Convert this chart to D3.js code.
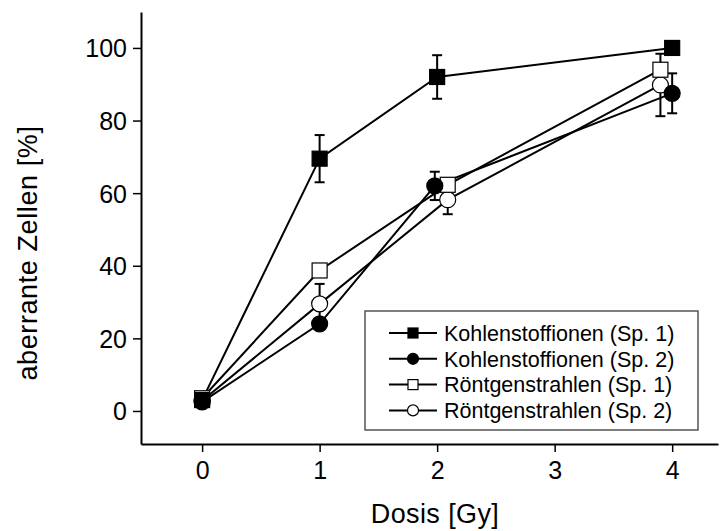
<!DOCTYPE html>
<html>
<head>
<meta charset="utf-8">
<script src="https://cdn.jsdelivr.net/npm/d3@7"></script>
<style>
  html, body { margin: 0; padding: 0; background: #fff; }
  svg { display: block; font-family: "Liberation Sans", Arial, sans-serif; }
</style>
</head>
<body>
<svg id="chart" width="720" height="531"></svg>
<script>
// Dose (Gy) positions per series; slight offsets keep overlapping points apart
const xC1 = [0, 1, 2, 4];
const xC2 = [0, 1, 1.98, 4.0];
const xR1 = [0, 1, 2.09, 3.9];
const xR2 = [0, 1, 2.09, 3.9];

// Aberrant cells in percent
const yC1 = [3, 69.5, 92, 100];
const yC2 = [2.5, 24, 62, 87.5];
const yR1 = [3.5, 38.7, 62.3, 94];
const yR2 = [2.8, 29.5, 58.2, 89.8];

// Error bar half-widths (percent); 0 = no bar drawn
const eC1 = [0, 6.5, 6, 0];
const eC2 = [0, 1.5, 3.9, 5.5];
const eR1 = [0, 0, 0, 0];
const eR2 = [0, 5.5, 4, 8.6];

const seriesNames = [
  "Kohlenstoffionen (Sp. 1)",
  "Kohlenstoffionen (Sp. 2)",
  "Röntgenstrahlen (Sp. 1)",
  "Röntgenstrahlen (Sp. 2)"
];
const xTicks = [0, 1, 2, 3, 4];
const yTicks = [0, 20, 40, 60, 80, 100];

const series = [
  { name: seriesNames[0], x: xC1, y: yC1, e: eC1, shape: "square", fill: "#000" },
  { name: seriesNames[1], x: xC2, y: yC2, e: eC2, shape: "circle", fill: "#000" },
  { name: seriesNames[2], x: xR1, y: yR1, e: eR1, shape: "square", fill: "#fff" },
  { name: seriesNames[3], x: xR2, y: yR2, e: eR2, shape: "circle", fill: "#fff" }
];

const svg = d3.select("#chart");
const plot = { left: 141, right: 718, top: 12, bottom: 444 };

const x = d3.scaleLinear().domain([-0.52, 4.39]).range([plot.left, plot.right]);
const y = d3.scaleLinear().domain([-9.1, 109.9]).range([plot.bottom, plot.top]);

// Axes
const xAxis = d3.axisBottom(x).tickValues(xTicks).tickFormat(d3.format("d"))
  .tickSize(8).tickSizeOuter(0).tickPadding(9);
const yAxis = d3.axisLeft(y).tickValues(yTicks).tickFormat(d3.format("d"))
  .tickSize(8).tickSizeOuter(0).tickPadding(6);

const gx = svg.append("g").attr("transform", `translate(0,${plot.bottom})`).call(xAxis);
const gy = svg.append("g").attr("transform", `translate(${plot.left},0)`).call(yAxis);
[gx, gy].forEach(g => {
  g.select(".domain").attr("stroke", "#000").attr("stroke-width", 2);
  g.selectAll(".tick line").attr("stroke", "#000").attr("stroke-width", 1.5);
  g.selectAll(".tick text").attr("fill", "#000").style("font-size", "25px")
    .style("font-family", "'Liberation Sans', Arial, sans-serif");
});
gy.selectAll(".tick text").attr("dy", "0.36em");

// Axis titles
svg.append("text")
  .attr("x", 435)
  .attr("y", 523)
  .attr("text-anchor", "middle")
  .style("font-size", "27px")
  .style("letter-spacing", "0.4px")
  .text("Dosis [Gy]");

svg.append("text")
  .attr("transform", "translate(37,253) rotate(-90)")
  .attr("text-anchor", "middle")
  .style("font-size", "27px")
  .style("letter-spacing", "0.6px")
  .text("aberrante Zellen [%]");

const markerSize = 15;
function drawMarker(g, shape, fill, cx, cy, size) {
  if (shape === "square") {
    g.append("rect")
      .attr("x", cx - size / 2).attr("y", cy - size / 2)
      .attr("width", size).attr("height", size)
      .attr("fill", fill).attr("stroke", "#000").attr("stroke-width", 1.2);
  } else {
    g.append("circle")
      .attr("cx", cx).attr("cy", cy).attr("r", size / 2 + 0.5)
      .attr("fill", fill).attr("stroke", "#000").attr("stroke-width", 1.2);
  }
}

const line = d3.line().x(d => x(d[0])).y(d => y(d[1]));

// Error bars first, then lines, then markers on top
const gErr = svg.append("g");
series.forEach(s => {
  s.x.forEach((xv, i) => {
    const e = s.e[i];
    if (!e) return;
    const cx = x(xv);
    gErr.append("line")
      .attr("x1", cx).attr("x2", cx)
      .attr("y1", y(s.y[i] - e)).attr("y2", y(s.y[i] + e))
      .attr("stroke", "#000").attr("stroke-width", 2);
    [s.y[i] - e, s.y[i] + e].forEach(v => {
      gErr.append("line")
        .attr("x1", cx - 5).attr("x2", cx + 5)
        .attr("y1", y(v)).attr("y2", y(v))
        .attr("stroke", "#000").attr("stroke-width", 2);
    });
  });
});

const gLines = svg.append("g");
series.forEach(s => {
  gLines.append("path")
    .datum(s.x.map((xv, i) => [xv, s.y[i]]))
    .attr("d", line)
    .attr("fill", "none")
    .attr("stroke", "#000")
    .attr("stroke-width", 2);
});

const gMarks = svg.append("g");
series.slice().reverse().forEach(s => {
  s.x.forEach((xv, i) => drawMarker(gMarks, s.shape, s.fill, x(xv), y(s.y[i]), markerSize));
});

// Legend
const legend = svg.append("g");
legend.append("rect")
  .attr("x", 365).attr("y", 311).attr("width", 333).attr("height", 119)
  .attr("fill", "#fff").attr("stroke", "#555").attr("stroke-width", 1.5);
series.forEach((s, i) => {
  const ly = 333 + i * 25.8;
  legend.append("line")
    .attr("x1", 389).attr("x2", 437).attr("y1", ly).attr("y2", ly)
    .attr("stroke", "#000").attr("stroke-width", 2);
  drawMarker(legend, s.shape, s.fill, 413, ly, 10);
  legend.append("text")
    .attr("x", 444).attr("y", ly).attr("dy", "0.36em")
    .style("font-size", "21.5px")
    .text(s.name);
});
</script>
</body>
</html>
